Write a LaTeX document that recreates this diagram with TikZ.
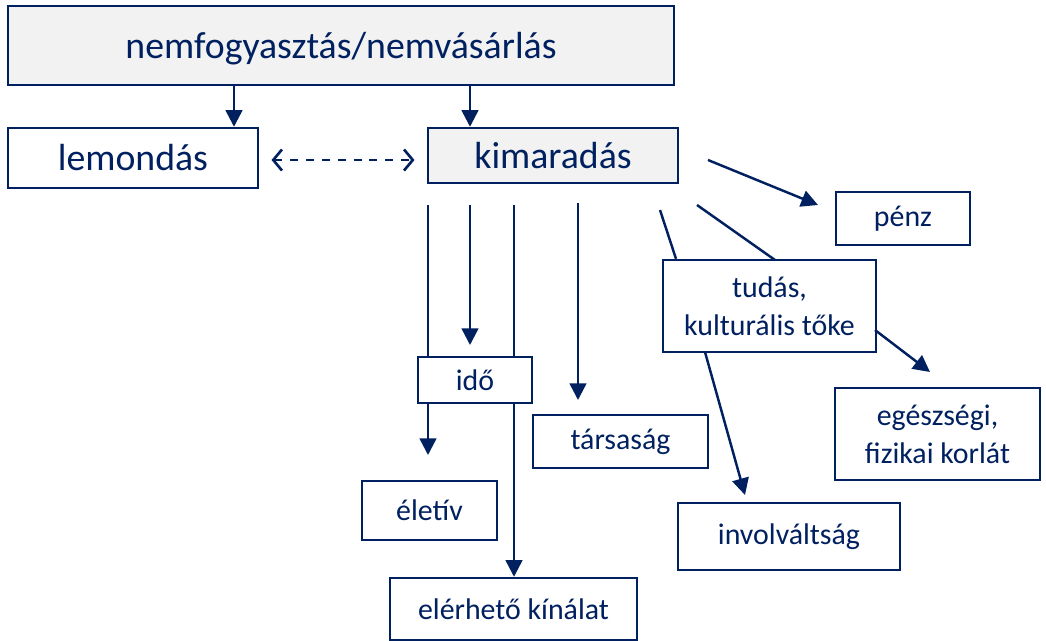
\documentclass[tikz,border=0pt]{standalone}
\usepackage{fontspec}
\setmainfont{Carlito}
\usetikzlibrary{arrows.meta,positioning}
\definecolor{navy}{RGB}{0,32,96}
\definecolor{boxgray}{RGB}{242,242,242}

\begin{document}
\begin{tikzpicture}[x=0.02cm,y=-0.02cm,
    box/.style={rectangle, draw=navy, line width=1.4pt, text=navy, align=center, inner sep=0pt, fill=white, font=\fontsize{17}{21.5}\selectfont},
    bigbox/.style={box, font=\fontsize{21.5}{25}\selectfont},
    arr/.style={draw=navy, line width=1.4pt, -{Triangle[length=9.5pt,width=9.5pt]}},
    ln/.style={draw=navy, line width=1.4pt},
    dasharr/.style={draw=navy, line width=1.5pt, dash pattern=on 4.5pt off 4.5pt, {Straight Barb[length=5pt,width=12pt]}-{Straight Barb[length=5pt,width=12pt]}}]
  \useasboundingbox (0,0) rectangle (1046,640);

  % Main boxes
  \node[bigbox, fill=boxgray, text depth=0pt, minimum width=13.32cm, minimum height=1.58cm] (top) at (341,45.5) {nemfogyasztás/nemvásárlás};
  \node[bigbox, minimum width=5cm, minimum height=1.2cm] (lemond) at (133,158) {lemondás};
  \node[bigbox, fill=boxgray, minimum width=5cm, minimum height=1.1cm] (kimar) at (553,155.5) {kimaradás};

  % Factors
  \node[box, minimum width=2.68cm, minimum height=1.06cm] (penz) at (903,218.5) {pénz};
  \node[box, minimum width=4.26cm, minimum height=1.84cm] (tudas) at (769.5,306) {tudás,\\kulturális tőke};
  \node[box, minimum width=4.1cm, minimum height=1.84cm] (egesz) at (937.5,434) {egészségi,\\fizikai korlát};
  \node[box, minimum width=4.44cm, minimum height=1.34cm] (invol) at (789,536.5) {involváltság};
  \node[box, minimum width=2.28cm, minimum height=0.92cm] (ido) at (475,380) {idő};
  \node[box, minimum width=3.5cm, minimum height=1.06cm] (tars) at (620.5,441.5) {társaság};
  \node[box, minimum width=2.7cm, minimum height=1.18cm] (eletiv) at (429.5,510.5) {életív};
  \node[box, minimum width=4.94cm, minimum height=1.24cm] (elerh) at (513.5,609) {elérhető kínálat};

  % Free ends
  \coordinate (xa) at (234,0);
  \coordinate (xb) at (470,0);
  \coordinate (k1) at (708,160);
  \coordinate (penzin) at (818,205);
  \coordinate (k2) at (660,210);
  \coordinate (k3) at (697,205);
  \coordinate (tudin) at (775,260);
  \coordinate (k4) at (428,205);
  \coordinate (k5) at (470,205);
  \coordinate (k6) at (514,205);
  \coordinate (k7) at (578,203);
  \coordinate (idoin) at (470,345);
  \coordinate (tarsin) at (578,400);
  \coordinate (eletin) at (428,455);
  \coordinate (t1) at (875,330);
  \coordinate (egeszin) at (930,372);
  \coordinate (t2) at (705,352);
  \coordinate (involin) at (745,495);

  % Connectors
  \draw[arr] (top.south -| xa) -- (lemond.north -| xa);
  \draw[arr] (top.south -| xb) -- (kimar.north -| xb);
  \draw[dasharr] ([xshift=7pt]lemond.east |- 0,160) -- ([xshift=-7pt]kimar.west |- 0,160);
  \draw[arr] (k1) -- (penzin);
  \draw[ln] (k2) -- (tudas.north -| 676,0);
  \draw[ln] (k3) -- (tudin);
  \draw[arr] (t1) -- (egeszin);
  \draw[arr] (t2) -- (involin);
  \draw[ln] (k4) -- (ido.north -| k4);
  \draw[arr] (ido.south -| k4) -- (eletin);
  \draw[arr] (k5) -- (idoin);
  \draw[ln] (k6) -- (ido.north -| k6);
  \draw[arr] (ido.south -| k6) -- (elerh.north -| k6);
  \draw[arr] (k7) -- (tarsin);
\end{tikzpicture}
\end{document}
